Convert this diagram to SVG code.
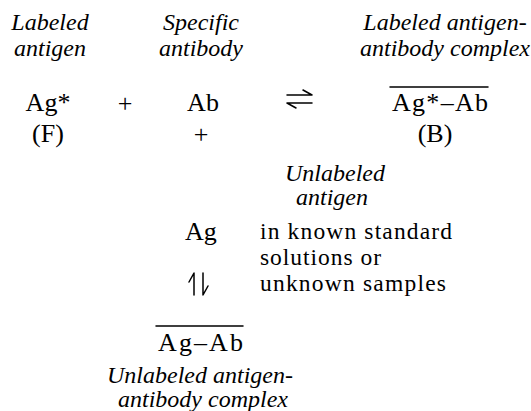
<svg xmlns="http://www.w3.org/2000/svg" width="531" height="411" viewBox="0 0 531 411">
<style>
  text { font-family: "Liberation Serif", "Times New Roman", "DejaVu Serif", serif; fill: #000; }
  .it { font-style: italic; font-size: 24px; }
  .rm { font-size: 26px; }
  .note { font-size: 23.5px; }
  .c { text-anchor: middle; }
  .ln { stroke: #000; stroke-width: 1.5; fill: none; stroke-linecap: round; stroke-linejoin: round; }
</style>
<rect width="531" height="411" fill="#fff"/>
<g id="labeled-antigen">
  <text class="it c" x="50" y="30">Labeled</text>
  <text class="it c" x="50" y="56">antigen</text>
  <text class="rm c" x="48" y="111">Ag*</text>
  <text class="rm c" x="48" y="142">(F)</text>
</g>
<g id="plus-1">
  <text class="rm c" x="125" y="112">+</text>
</g>
<g id="specific-antibody">
  <text class="it c" x="201" y="30">Specific</text>
  <text class="it c" x="201" y="56">antibody</text>
  <text class="rm c" x="203" y="111">Ab</text>
</g>
<g id="plus-2">
  <text class="rm c" x="201" y="143">+</text>
</g>
<g id="labeled-complex">
  <text class="it c" x="445" y="30">Labeled antigen-</text>
  <text class="it c" x="445" y="56">antibody complex</text>
  <line class="ln" x1="390" y1="87" x2="488" y2="87"/>
  <text class="rm" x="392" y="111" textLength="96" lengthAdjust="spacing">Ag*–Ab</text>
  <text class="rm c" x="435" y="142">(B)</text>
</g>
<g id="unlabeled-antigen">
  <text class="it" x="285" y="181">Unlabeled</text>
  <text class="it" x="296" y="205">antigen</text>
  <text class="rm" x="185" y="240">Ag</text>
  <text class="note" x="260" y="239" textLength="192" lengthAdjust="spacing">in known standard</text>
  <text class="note" x="260" y="265" textLength="121" lengthAdjust="spacing">solutions or</text>
  <text class="note" x="260" y="291" textLength="186" lengthAdjust="spacing">unknown samples</text>
</g>
<g id="unlabeled-complex">
  <line class="ln" x1="156" y1="326" x2="243" y2="326"/>
  <text class="rm" x="158" y="351" textLength="85" lengthAdjust="spacing">Ag–Ab</text>
  <text class="it c" x="200" y="383">Unlabeled antigen-</text>
  <text class="it c" x="203" y="407">antibody complex</text>
</g>
<g id="connectors">
  <path class="ln" d="M287 95 H312 L303 90"/>
  <path class="ln" d="M312 103 H287 L296 108"/>
  <path class="ln" d="M194 295 V273 L189 282"/>
  <path class="ln" d="M203 273 V295 L208 286"/>
</g>
</svg>
